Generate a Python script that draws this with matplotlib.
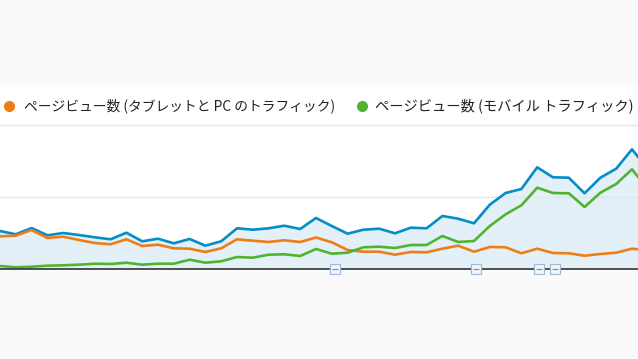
import numpy as np
import matplotlib
matplotlib.use("Agg")
import matplotlib.pyplot as plt

plt.rcParams['font.family'] = ['Noto Sans CJK JP', 'DejaVu Sans']

# page views per week (arbitrary units)
total_views = [38, 34.7, 41, 33.7, 36, 34, 31.7, 29.7, 36.3, 27.7,
               30.3, 25.7, 30, 23.3, 27.7, 40.7, 39.3, 40.7, 43.3, 40,
               51, 43, 35.3, 39.3, 40.3, 35.7, 41.3, 40.7, 53, 50.3,
               45.7, 64.3, 76, 80, 101.7, 91.7, 91.3, 75.7, 91.3, 100.3,
               119.7, 100]
pc_views = [32.7, 33.3, 39, 31, 32.3, 29, 26, 24.7, 29.7, 23,
            24.3, 20.7, 20.3, 17, 20.7, 29.7, 28.3, 27, 28.7, 27,
            31.5, 26.7, 19, 17.3, 17.3, 14.3, 17, 16.7, 20.3, 23.3,
            17.3, 22, 21.7, 15.7, 20.3, 16, 15.7, 13.3, 15, 16.3,
            20.3, 18.5]
mobile_views = [3, 1.7, 2.3, 3.3, 3.7, 4.3, 5.3, 5, 6.3, 4.3,
                5.3, 5.3, 9.3, 6.3, 7.7, 12, 11.3, 14.3, 14.7, 13,
                20, 15.3, 16.3, 21.7, 22.3, 21, 24, 24, 33, 27,
                28, 43, 54.7, 63.7, 81.3, 76, 75.7, 62, 76.3, 85,
                99.7, 80]
labels = ["ページビュー数 (タブレットと PC のトラフィック)",
          "ページビュー数 (モバイル トラフィック)"]
note_weeks = [21.2, 30.1, 34.1, 35.1]  # annotation markers on the time axis

x = np.arange(len(total_views))

fig = plt.figure(figsize=(6.38, 3.59), dpi=100, facecolor='#fafafa')
ax = fig.add_axes([0, 90 / 359, 1, 184 / 359])
ax.set_facecolor('white')

ax.fill_between(x, 0, total_views, color='#e3f0f8', lw=0)
for g in (72, 144):
    ax.axhline(g, color='#e5e5e5', lw=1, zorder=1)

ax.plot(x, total_views, color='#058dc7', lw=1.9, zorder=3)
ax.plot(x, pc_views, color='#ed7e17', lw=1.9, zorder=4)
ax.plot(x, mobile_views, color='#50b432', lw=1.9, zorder=5)

ax.axhline(0, color='#333333', lw=1.2, zorder=6, clip_on=False)
ax.plot(note_weeks, [0] * len(note_weeks), ls='none', marker='s', ms=7.5,
        mfc='#eef4fa', mec='#9db9d6', mew=0.8, zorder=7, clip_on=False)
ax.plot(note_weeks, [0] * len(note_weeks), ls='none', marker='_', ms=4,
        mec='#7a8a9a', mew=0.8, zorder=8, clip_on=False)

ax.set_xlim(0, 40.38)
ax.set_ylim(0, 184)
ax.set_xticks([])
ax.set_yticks([])
for s in ax.spines.values():
    s.set_visible(False)

# legend
ax.plot([9 / 638], [1 - 21 / 184], 'o', color='#ed7e17', ms=7,
        transform=ax.transAxes, clip_on=False)
ax.text(24 / 638, 1 - 21 / 184, labels[0], transform=ax.transAxes,
        fontsize=9.9, color='#222222', va='center', ha='left')
ax.plot([362 / 638], [1 - 21 / 184], 'o', color='#50b432', ms=7,
        transform=ax.transAxes, clip_on=False)
ax.text(375 / 638, 1 - 21 / 184, labels[1], transform=ax.transAxes,
        fontsize=10.3, color='#222222', va='center', ha='left')

fig.savefig('out.png', dpi=100, facecolor=fig.get_facecolor())
